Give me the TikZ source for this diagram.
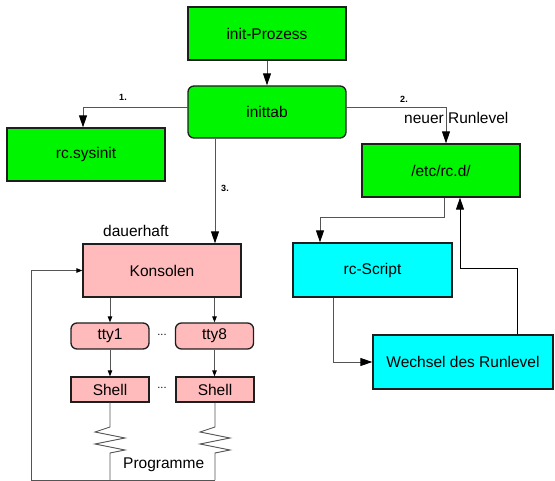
\documentclass[tikz,border=0pt]{standalone}
\usepackage{fontspec}
\setmainfont{Liberation Sans}
\usetikzlibrary{arrows.meta}
\definecolor{gfill}{RGB}{0,245,0}
\definecolor{pfill}{RGB}{255,187,187}
\definecolor{cfill}{RGB}{0,255,255}
\definecolor{conn}{RGB}{85,85,85}
\definecolor{bord}{RGB}{30,30,30}
\tikzset{
  box/.style={draw=bord, line width=1.3pt, minimum width=158pt, minimum height=53pt, inner sep=0pt, font=\fontsize{15.5}{18}\selectfont},
  gbox/.style={box, fill=gfill},
  pbox/.style={box, fill=pfill},
  cbox/.style={box, fill=cfill},
  small/.style={minimum width=78pt, minimum height=26pt},
  conline/.style={draw=conn, line width=0.9pt},
  bigarr/.style={-{Triangle[length=12pt,width=8pt,color=black]}},
  smallarr/.style={-{Triangle[length=6pt,width=4.5pt,color=black]}},
  lbl/.style={inner sep=0pt, font=\fontsize{15.5}{18}\selectfont},
  num/.style={inner sep=0pt, font=\bfseries\fontsize{9}{10}\selectfont},
}
\begin{document}
\begin{tikzpicture}[x=1pt,y=-1pt]
\useasboundingbox (0,0) rectangle (555,481);
% nodes
\node[gbox] (init) at (267,33.5) {init-Prozess};
\node[gbox, rounded corners=6pt, minimum height=52pt] (inittab) at (267,112) {inittab};
\node[gbox] (sysinit) at (86,154.5) {rc.sysinit};
\node[gbox] (rcd) at (441,170.5) {/etc/rc.d/};
\node[pbox] (kons) at (162,270.5) {Konsolen};
\node[pbox, small, rounded corners=6pt] (tty1) at (110,336) {tty1};
\node[pbox, small, rounded corners=6pt] (tty8) at (214.5,336) {tty8};
\node[pbox, small, minimum height=25pt] (sh1) at (110,389.5) {Shell};
\node[pbox, small, minimum height=25pt] (sh2) at (215,389.5) {Shell};
\node[cbox, minimum width=159pt, minimum height=54pt] (rcs) at (372.5,270) {rc-Script};
\node[cbox, minimum width=180pt, minimum height=54pt] (wech) at (463,362) {Wechsel des Runlevel};
% labels
\node[num] (n1) at (123,97) {1.};
\node[num] (n2) at (404,99) {2.};
\node[num] (n3) at (225,188) {3.};
\node[lbl, anchor=west] (neu) at (404,118) {neuer Runlevel};
\node[lbl, anchor=west] (dau) at (103,231) {dauerhaft};
\node[lbl] (dots1) at (162,335) {\fontsize{11}{12}\selectfont ...};
\node[lbl] (dots2) at (162,388) {\fontsize{11}{12}\selectfont ...};
\node[lbl, anchor=west] (prog) at (123,465) {Programme};
% coordinates
\coordinate (a1) at (188,107);
\coordinate (a2) at (346,107);
\coordinate (z1t) at (110,427);
\coordinate (z1b) at (110,453);
\coordinate (z2t) at (215,427);
\coordinate (z2b) at (215,453);
\coordinate (b1) at (110,480);
\coordinate (b2) at (215,480);
\coordinate (bl) at (31,480);
% connectors
\draw[conline, bigarr] (init.south) -- (inittab.north);
\draw[conline, bigarr] (a1) -| ([xshift=-3pt]sysinit.north);
\draw[conline, bigarr] (a2) -| ([xshift=5pt]rcd.north);
\draw[conline, bigarr] ([xshift=-52pt]inittab.south) -- ([xshift=53pt]kons.north);
\draw[conline, smallarr] ([xshift=-52pt]kons.south) -- (tty1.north);
\draw[conline, smallarr] ([xshift=52.5pt]kons.south) -- (tty8.north);
\draw[conline, smallarr] (tty1.south) -- (sh1.north);
\draw[conline, smallarr] (tty8.south) -- ([xshift=-0.5pt]sh2.north);
\draw[conline] (sh1.south) -- (z1t) -- ++(-15,5) -- ++(30,6) -- ++(-30,6) -- ++(30,6) -- (z1b) -- (b1);
\draw[conline] (sh2.south) -- (z2t) -- ++(-15,5) -- ++(30,6) -- ++(-30,6) -- ++(30,6) -- (z2b) -- (b2);
\draw[conline, smallarr] (b2) -- (bl) |- (kons.west);
\draw[conline, bigarr] ([xshift=3pt]rcd.south) -- ++(0,20) -| ([xshift=-52.5pt]rcs.north);
\draw[conline, bigarr] ([xshift=-39.5pt]rcs.south) |- (wech.west);
\draw[line width=0.9pt, black, bigarr] ([xshift=54pt]wech.north) -- ++(0,-66) -| ([xshift=19pt]rcd.south);
\end{tikzpicture}
\end{document}
